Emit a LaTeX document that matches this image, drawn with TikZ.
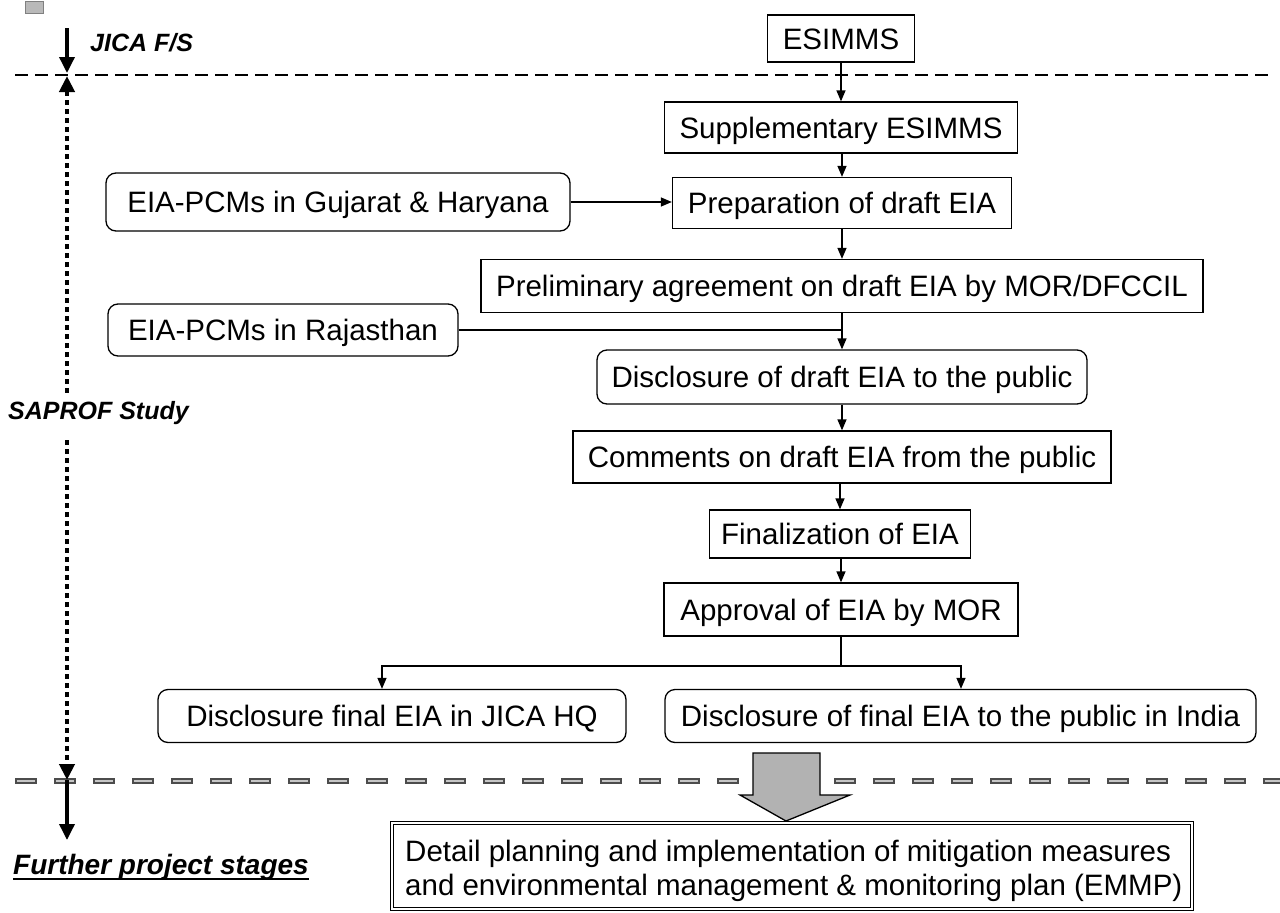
\documentclass[tikz,border=0pt]{standalone}
\usepackage{fontspec}
\setmainfont{Liberation Sans}
\usetikzlibrary{arrows.meta}

\begin{document}
\begin{tikzpicture}[x=1pt,y=-1pt,
  boxfont/.style={font=\fontsize{29.5}{34}\selectfont, text height=21.2pt, text depth=0pt},
  stepbox/.style={draw, line width=1.3pt, boxfont, inner sep=0pt},
  roundbox/.style={stepbox, rounded corners=10pt},
  flow/.style={line width=1.3pt, -{Triangle[length=11pt,width=9pt]}},
  plainline/.style={line width=1.3pt},
  stage/.style={font=\fontsize{25}{30}\selectfont\bfseries\itshape, inner sep=0pt, anchor=west},
  thickarrow/.style={line width=3.5pt, -{Triangle[length=16pt,width=15pt]}},
  dotline/.style={line width=4pt, dash pattern=on 5pt off 4pt},
]
\useasboundingbox (0,0) rectangle (1280,913);

% small mark in the corner
\fill[gray!55, draw=gray] (25,1) rectangle (43,13);

% stage separators
\draw[line width=1.3pt, dash pattern=on 13pt off 7pt] (15,75) -- (1268,75);
\draw[line width=5.5pt, black!70, dash pattern=on 22pt off 17pt] (15,781) -- (1280,781);
\draw[line width=2.5pt, gray!45, dash pattern=on 18pt off 21pt, dash phase=-2pt] (15,781) -- (1280,781);

% stage axis on the left
\coordinate (jtop) at (67,28);
\coordinate (jtip) at (67,73);
\coordinate (stop) at (67,76);
\coordinate (sgap1) at (67,393);
\coordinate (sgap2) at (67,440);
\coordinate (sbot) at (67,780);
\coordinate (ftip) at (67,840);

\draw[thickarrow] (jtop) -- (jtip);
\node[stage] (jica) at (90,43) {JICA F/S};

\draw[dotline, {Triangle[length=16pt,width=15pt]}-] (stop) -- (sgap1);
\node[stage] (saprof) at (8,413) {SAPROF Study};
\draw[dotline, -{Triangle[length=16pt,width=15pt]}] (sgap2) -- (sbot);

\draw[thickarrow] (sbot) -- (ftip);
\node[stage, font=\fontsize{28}{33}\selectfont\bfseries\itshape] (further) at (13,867) {Further project stages};
\draw[line width=2pt] ([yshift=-5pt]further.base west) -- ([yshift=-5pt]further.base east);

% main sequence
\node[stepbox, minimum width=147pt, minimum height=47pt] (esimms) at (841,38.5) {ESIMMS};
\node[stepbox, minimum width=353pt, minimum height=51pt] (supp) at (841,127.5) {Supplementary ESIMMS};
\node[stepbox, minimum width=339pt, minimum height=51pt] (prep) at (842,203) {Preparation of draft EIA};
\node[roundbox, minimum width=464pt, minimum height=58pt] (pcmg) at (338,202) {EIA-PCMs in Gujarat \& Haryana};
\node[stepbox, minimum width=722pt, minimum height=53pt] (prelim) at (842,286) {Preliminary agreement on draft EIA by MOR/DFCCIL};
\node[roundbox, minimum width=350pt, minimum height=52pt] (pcmr) at (283,330) {EIA-PCMs in Rajasthan};
\node[roundbox, minimum width=490pt, minimum height=54pt] (discd) at (842,377) {Disclosure of draft EIA to the public};
\node[stepbox, minimum width=538pt, minimum height=52pt] (comm) at (842,457) {Comments on draft EIA from the public};
\node[stepbox, minimum width=261pt, minimum height=48pt] (final) at (840,534) {Finalization of EIA};
\node[stepbox, minimum width=354pt, minimum height=53pt] (appr) at (841,609.5) {Approval of EIA by MOR};
\node[roundbox, minimum width=468pt, minimum height=53pt] (hq) at (392,716) {Disclosure final EIA in JICA HQ};
\node[roundbox, minimum width=591pt, minimum height=53pt] (india) at (960.5,716) {Disclosure of final EIA to the public in India};

\draw[flow] (esimms.south -| supp.north) -- (supp.north);
\draw[flow] (supp.south -| prep.north) -- (prep.north);
\draw[flow] (pcmg.east) -- (pcmg.east -| prep.west);
\draw[flow] (prep.south) -- (prelim.north);
\draw[flow] (prelim.south) -- (discd.north);
\draw[plainline] (pcmr.east) -- (pcmr.east -| prelim.south);
\draw[flow] (discd.south) -- (comm.north);
\draw[flow] (comm.south -| final.north) -- (final.north);
\draw[flow] (final.south -| appr.north) -- (appr.north);

\coordinate (split) at (841,666);
\draw[plainline] (appr.south) -- (split);
\draw[flow] (split) -| ([xshift=-10pt]hq.north);
\draw[flow] (split) -| ([xshift=0.5pt]india.north);

% hand-over to the following stages
\node[draw, double, double distance=2.5pt, line width=1.1pt, minimum width=800pt, minimum height=86pt,
      inner sep=0pt] (emmp) at (792,866) {};
\node[font=\fontsize{29.5}{34}\selectfont, align=left, anchor=north west, inner sep=0pt] (emmptext)
  at (405,840) {Detail planning and implementation of mitigation measures\\and environmental management \& monitoring plan (EMMP)};

\draw[line width=1.3pt, fill=gray!60] (753,753) -- (820,753) -- (820,795) -- (850,795) -- (786,821)
  -- (740,795) -- (753,795) -- cycle;
\end{tikzpicture}
\end{document}
